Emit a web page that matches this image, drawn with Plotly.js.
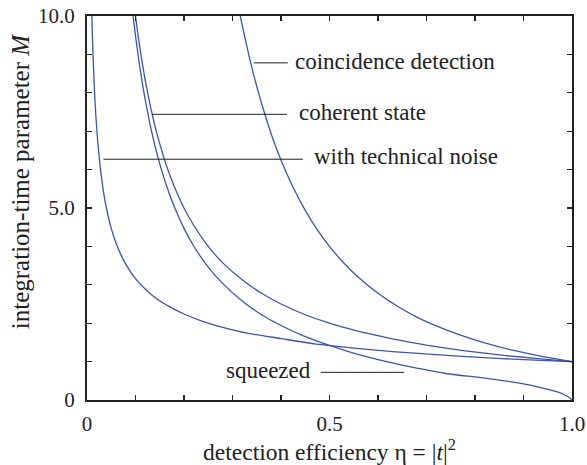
<!DOCTYPE html>
<html>
<head>
<meta charset="utf-8">
<script src="https://cdn.plot.ly/plotly-3.0.1.min.js"></script>
<style>html,body{margin:0;padding:0;background:#fff;}#chart{width:587px;height:465px;}</style>
</head>
<body>
<div id="chart"></div>
<script>
// Values
const noiseEta = [0.01, 0.012, 0.015, 0.018, 0.022, 0.027, 0.033, 0.04, 0.05, 0.06, 0.07, 0.08, 0.1, 0.12, 0.14, 0.17, 0.2, 0.24, 0.28, 0.33, 0.4, 0.47, 0.55, 0.63, 0.72, 0.81, 0.9, 1.0];
const noiseM   = [10, 9.13, 8.16, 7.45, 6.74, 6.09, 5.5, 5.0, 4.47, 4.08, 3.78, 3.54, 3.16, 2.89, 2.67, 2.43, 2.24, 2.04, 1.89, 1.74, 1.6, 1.46, 1.35, 1.26, 1.18, 1.11, 1.05, 1.0];

const coherentEta = [0.1, 0.105, 0.11, 0.115, 0.12, 0.13, 0.14, 0.15, 0.165, 0.18, 0.2, 0.22, 0.25, 0.28, 0.32, 0.36, 0.4, 0.45, 0.5, 0.56, 0.63, 0.7, 0.78, 0.86, 0.93, 1.0];
const coherentM   = [10, 9.52, 9.09, 8.7, 8.33, 7.69, 7.14, 6.67, 6.06, 5.56, 5.0, 4.55, 4.0, 3.57, 3.13, 2.78, 2.5, 2.22, 2.0, 1.79, 1.59, 1.43, 1.28, 1.16, 1.08, 1.0];

const coincEta = [0.316, 0.325, 0.335, 0.345, 0.36, 0.375, 0.39, 0.41, 0.43, 0.45, 0.475, 0.5, 0.53, 0.56, 0.6, 0.64, 0.68, 0.72, 0.77, 0.82, 0.88, 0.94, 1.0];
const coincM   = [10, 9.47, 8.91, 8.4, 7.72, 7.11, 6.57, 5.95, 5.41, 4.94, 4.43, 4.0, 3.56, 3.19, 2.78, 2.44, 2.16, 1.93, 1.69, 1.49, 1.29, 1.13, 1.0];

const squeezedEta = [0.095, 0.1, 0.105, 0.11, 0.115, 0.12, 0.13, 0.14, 0.15, 0.165, 0.18, 0.2, 0.22, 0.25, 0.28, 0.32, 0.36, 0.4, 0.45, 0.5, 0.56, 0.62, 0.68, 0.74, 0.8, 0.85, 0.9, 0.94, 0.97, 0.985, 0.995, 1.0];
const squeezedM   = [10, 9.49, 9.01, 8.58, 8.18, 7.82, 7.17, 6.62, 6.15, 5.54, 5.03, 4.47, 4.01, 3.46, 3.03, 2.58, 2.22, 1.94, 1.65, 1.42, 1.18, 0.99, 0.83, 0.69, 0.6, 0.52, 0.42, 0.31, 0.21, 0.13, 0.06, 0.0];

const xTickVals = [0, 0.5, 1.0];
const xTickText = ['0', '0.5', '1.0'];
const yTickVals = [0, 5, 10];
const yTickText = ['0', '5.0', '10.0'];

const lineColor = '#3b55ad';
const serif = 'Liberation Serif';

function curve(x, y, name) {
  return {x: x, y: y, name: name, type: 'scatter', mode: 'lines',
          line: {color: lineColor, width: 1.3, shape: 'spline', smoothing: 0.4},
          hoverinfo: 'x+y+name'};
}

const data = [
  curve(noiseEta, noiseM, 'with technical noise'),
  curve(coherentEta, coherentM, 'coherent state'),
  curve(coincEta, coincM, 'coincidence detection'),
  curve(squeezedEta, squeezedM, 'squeezed'),
  // empty trace so the mirrored tick axes (top / right) are drawn
  {x: [], y: [], xaxis: 'x2', yaxis: 'y2', type: 'scatter', mode: 'lines', hoverinfo: 'skip', showlegend: false}
];

function leader(x0, x1, y) {
  return {type: 'line', xref: 'x', yref: 'y', x0: x0, x1: x1, y0: y, y1: y,
          line: {color: '#222', width: 1}};
}
function label(text, x, y, anchor) {
  return {text: text, x: x, y: y, xref: 'x', yref: 'y', xanchor: anchor, yanchor: 'middle',
          showarrow: false, font: {family: serif, size: 23, color: '#222'}};
}

const minorTicks = function (d) {
  return {dtick: d, ticks: 'inside', ticklen: 5, tickwidth: 1.3, tickcolor: '#222', showgrid: false};
};

const layout = {
  width: 587, height: 465,
  margin: {l: 87, r: 15, t: 16, b: 65},
  paper_bgcolor: '#fff', plot_bgcolor: '#fff',
  showlegend: false,
  font: {family: serif, size: 20, color: '#222'},
  xaxis: {
    range: [0, 1], tickmode: 'array', tickvals: xTickVals, ticktext: xTickText,
    ticks: 'inside', ticklen: 5, tickwidth: 1.3, tickcolor: '#222',
    minor: minorTicks(0.1),
    showline: true, linecolor: '#222', linewidth: 2, mirror: true,
    showgrid: false, zeroline: false, ticklabelstandoff: 4,
    tickfont: {family: serif, size: 21, color: '#222'},
    title: {text: 'detection efficiency η = |<i>t</i>|<sup>2</sup>', standoff: 8,
            font: {family: serif, size: 23.5, color: '#222'}}
  },
  yaxis: {
    range: [0, 10], tickmode: 'array', tickvals: yTickVals, ticktext: yTickText,
    ticks: 'inside', ticklen: 5, tickwidth: 1.3, tickcolor: '#222',
    minor: minorTicks(1),
    showline: true, linecolor: '#222', linewidth: 2, mirror: true,
    showgrid: false, zeroline: false, ticklabelstandoff: 6,
    tickfont: {family: serif, size: 21, color: '#222'}
  },
  xaxis2: {
    overlaying: 'x', side: 'top', anchor: 'y2', range: [0, 1], dtick: 0.1,
    ticks: 'inside', ticklen: 5, tickwidth: 1.3, tickcolor: '#222',
    showticklabels: false, showline: false, showgrid: false, zeroline: false
  },
  yaxis2: {
    overlaying: 'y', side: 'right', anchor: 'x2', range: [0, 10], dtick: 1,
    ticks: 'inside', ticklen: 5, tickwidth: 1.3, tickcolor: '#222',
    showticklabels: false, showline: false, showgrid: false, zeroline: false
  },
  shapes: [
    leader(0.344, 0.414, 8.78),
    leader(0.134, 0.412, 7.44),
    leader(0.034, 0.445, 6.27),
    leader(0.482, 0.654, 0.72)
  ],
  annotations: [
    label('coincidence detection', 0.425, 8.82, 'left'),
    label('coherent state', 0.434, 7.48, 'left'),
    label('with technical noise', 0.463, 6.33, 'left'),
    label('squeezed', 0.466, 0.76, 'right'),
    {text: 'integration-time parameter <i>M</i>', xref: 'paper', yref: 'paper',
     x: -0.138, y: 0.57, xanchor: 'center', yanchor: 'middle', textangle: -90,
     showarrow: false, font: {family: serif, size: 25, color: '#222'}}
  ]
};

Plotly.newPlot('chart', data, layout, {displayModeBar: false, staticPlot: true});
</script>
</body>
</html>
